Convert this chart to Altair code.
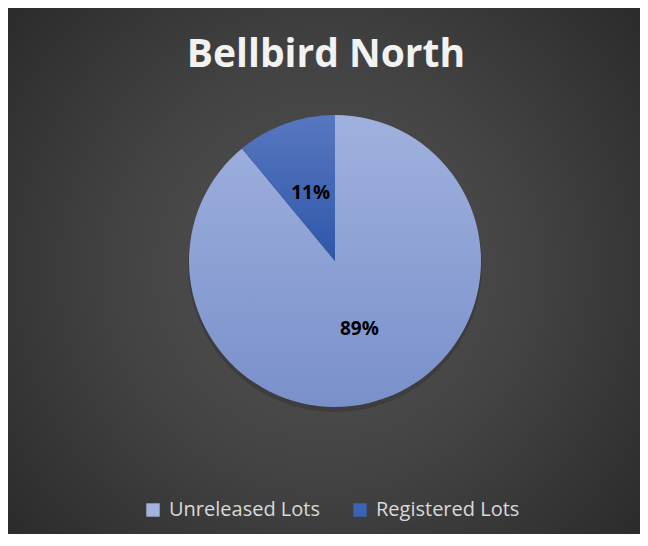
import altair as alt
import pandas as pd

categories = ["Unreleased Lots", "Registered Lots"]
values = [89, 11]
legend_colors = ["#a3b3e0", "#3b63b4"]
title_text = "Bellbird North"

df = pd.DataFrame({"category": categories, "value": values, "order": [0, 1]})

W, H = 632, 526
CX, CY, R = 327, 253, 146
FONT = "Open Sans"

bg = alt.Chart(alt.InlineData(values=[{"a": 1}])).mark_rect(
    color=alt.RadialGradient(
        gradient="radial",
        stops=[alt.GradientStop(color="#545454", offset=0),
               alt.GradientStop(color="#434343", offset=0.45),
               alt.GradientStop(color="#262626", offset=1)],
        x1=0.5, y1=0.5, r1=0, x2=0.5, y2=0.5, r2=0.72,
    )
).encode(x=alt.value(0), x2=alt.value(W), y=alt.value(0), y2=alt.value(H))

title = alt.Chart(alt.InlineData(values=[{"t": title_text}])).mark_text(
    font=FONT, fontSize=39, fontWeight="bold", color="#f2f2f2", align="center",
    baseline="alphabetic"
).encode(x=alt.value(318), y=alt.value(59), text="t:N")

shadow = alt.Chart(alt.InlineData(values=[{"a": 1}])).mark_arc(
    radius=R + 1, theta=0, theta2=6.2832, color="#1a1a1a", opacity=0.25
).encode(x=alt.value(CX), y=alt.value(CY + 4))

base = alt.Chart(df).transform_stack(
    stack="value", groupby=[], as_=["v0", "v1"], sort=[alt.SortField("order")]
)

theta_scale = alt.Scale(domain=[0, 100], range=[0, 6.283185307179586])

def slice_layer(cat, c_top, c_bot):
    return base.transform_filter(alt.datum.category == cat).mark_arc(
        radius=R,
        color=alt.LinearGradient(
            gradient="linear",
            stops=[alt.GradientStop(color=c_top, offset=0),
                   alt.GradientStop(color=c_bot, offset=1)],
            x1=0, x2=0, y1=0, y2=1,
        ),
    ).encode(
        theta=alt.Theta("v0:Q", scale=theta_scale),
        theta2="v1:Q",
        x=alt.value(CX), y=alt.value(CY),
    )

arc1 = slice_layer("Unreleased Lots", "#a0b1de", "#7990ca")
arc2 = slice_layer("Registered Lots", "#5877c0", "#2e57a9")

labels = base.transform_calculate(
    mid="(datum.v0 + datum.v1) / 2",
    label="datum.value + '%'",
).mark_text(
    radius=72, font=FONT, fontSize=19, fontWeight="bold", color="#000000",
    align="center", baseline="middle"
).encode(
    theta=alt.Theta("mid:Q", scale=theta_scale),
    text="label:N",
    x=alt.value(CX), y=alt.value(CY),
)

legend_layer = alt.Chart(df).mark_square(size=0, opacity=1).encode(
    color=alt.Color(
        "category:N",
        scale=alt.Scale(domain=categories, range=legend_colors),
        sort=categories,
        legend=alt.Legend(
            title=None, orient="none", direction="horizontal",
            legendX=135, legendY=492,
            symbolType="square", symbolSize=180, symbolStrokeWidth=0,
            symbolOpacity=1,
            labelFont=FONT, labelFontSize=20, labelColor="#d9d9d9",
            columnPadding=30, labelOffset=6, labelLimit=300,
        ),
    ),
    x=alt.value(-100), y=alt.value(-100),
)

chart = alt.layer(bg, title, shadow, arc1, arc2, labels, legend_layer).properties(
    width=W, height=H, padding=0,
    autosize=alt.AutoSizeParams(type="none"),
    background="#2a2a2a",
).configure_view(stroke=None, strokeWidth=0)

chart.save("out.html", embed_options={"renderer": "svg", "actions": False})
